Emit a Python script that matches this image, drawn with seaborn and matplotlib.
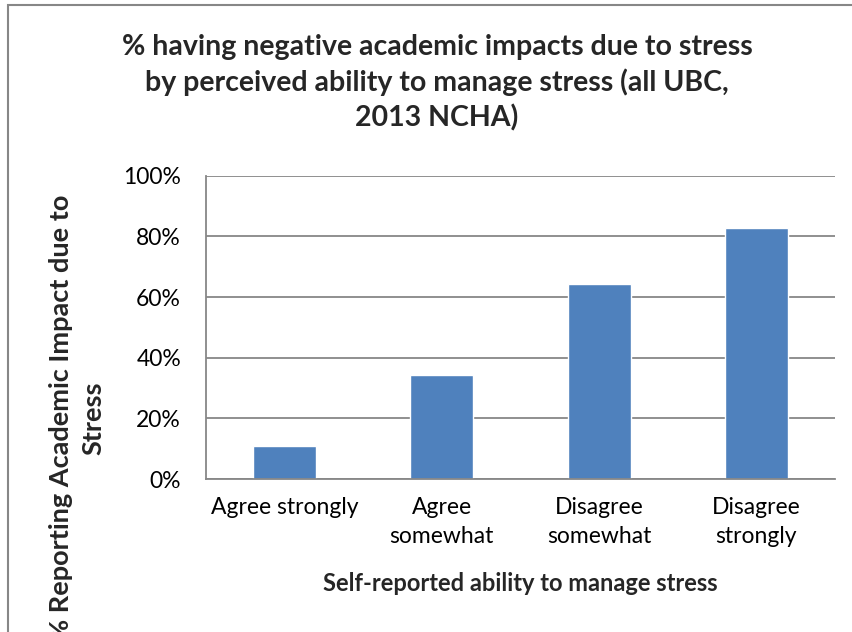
import numpy as np
import pandas as pd
import matplotlib.pyplot as plt
import seaborn as sns
from matplotlib.ticker import PercentFormatter, FixedLocator
from matplotlib.patches import Rectangle

# Datos
categorias = ["Agree strongly", "Agree\nsomewhat", "Disagree\nsomewhat", "Disagree\nstrongly"]
porcentajes = [0.109, 0.344, 0.644, 0.828]

titulo = "% having negative academic impacts due to stress\nby perceived ability to manage stress (all UBC,\n2013 NCHA)"
etiqueta_y = "% Reporting Academic Impact due to\nStress"
etiqueta_x = "Self-reported ability to manage stress"

sns.set_style("white")
plt.rcParams["font.family"] = ["Lato", "DejaVu Sans"]

gris = "#878787"
azul = "#4F81BD"

df = pd.DataFrame({"Categoria": categorias, "Valor": porcentajes})

fig = plt.figure(figsize=(8.53, 6.32), dpi=100)
ax = fig.add_axes([206 / 853, 1 - 479 / 632, (835 - 206) / 853, (479 - 175.7) / 632])

sns.barplot(data=df, x="Categoria", y="Valor", color=azul, width=0.4,
            saturation=1, ax=ax)

ax.set_xlim(-0.5, 3.5)
ax.set_ylim(0, 1)
ax.yaxis.set_major_locator(FixedLocator(np.arange(0, 1.01, 0.2)))
ax.yaxis.set_major_formatter(PercentFormatter(1.0, decimals=0))
ax.grid(axis="y", color=gris, linewidth=1.3)
ax.set_axisbelow(True)

# ticks del eje x en los bordes de categoria
ax.xaxis.set_minor_locator(FixedLocator(np.arange(-0.5, 3.6, 1)))
ax.tick_params(axis="x", which="major", length=0, pad=13, labelsize=16.5, colors="black")
ax.tick_params(axis="x", which="minor", length=6, width=1.3, direction="out")
ax.tick_params(axis="y", length=8, width=1.3, direction="out", pad=10,
               labelsize=16.5, colors="black")
for t in ax.get_yticklines():
    t.set_color(gris)
for t in ax.xaxis.get_minorticklines():
    t.set_color(gris)
for t in ax.get_xticklabels():
    t.set_linespacing(1.45)

sns.despine(ax=ax, top=True, right=True)
for s in ["left", "bottom"]:
    ax.spines[s].set_color(gris)
    ax.spines[s].set_linewidth(1.3)

ax.set_xlabel(etiqueta_x, fontsize=17, fontweight="bold", labelpad=18)
ax.set_ylabel("")

fig.text(77 / 853, 1 - 418 / 632, etiqueta_y, rotation=90, ha="center", va="center",
         fontsize=19.5, fontweight="bold", linespacing=1.4)
fig.text(437 / 853, 1 - 83 / 632, titulo, ha="center", va="center",
         fontsize=20.5, fontweight="bold", linespacing=1.38)

# borde del area del grafico
fig.patches.append(Rectangle((8 / 853, -0.1), 1.2, 1 - 5 / 632 + 0.1, transform=fig.transFigure,
                             fill=False, edgecolor=gris, linewidth=1.5))

fig.savefig("out.png", dpi=100)
